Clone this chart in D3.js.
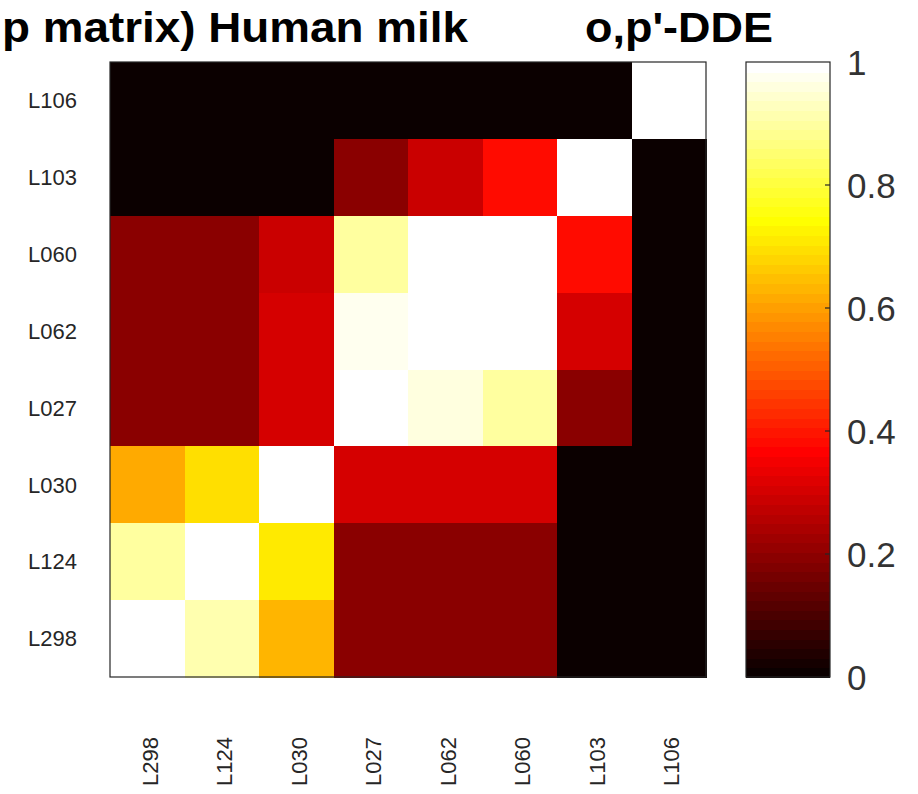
<!DOCTYPE html>
<html>
<head>
<meta charset="utf-8">
<script src="https://cdn.jsdelivr.net/npm/d3@7"></script>
<style>
  html, body { margin: 0; padding: 0; background: #ffffff; }
  svg { display: block; }
</style>
</head>
<body>
<svg id="chart" width="918" height="794"></svg>
<script>
// ---- data ----
const titleLeft = "p matrix) Human milk";
const titleRight = "o,p'-DDE";
const colLabels = ["L298", "L124", "L030", "L027", "L062", "L060", "L103", "L106"];
const rowLabels = ["L106", "L103", "L060", "L062", "L027", "L030", "L124", "L298"]; // top to bottom
// each row lists values for columns L298, L124, L030, L027, L062, L060, L103, L106
const rowL106 = [0.00, 0.00, 0.00, 0.00, 0.00, 0.00, 0.00, 1.00];
const rowL103 = [0.00, 0.00, 0.00, 0.20, 0.29, 0.38, 1.00, 0.00];
const rowL060 = [0.19, 0.19, 0.29, 0.90, 0.99, 0.99, 0.39, 0.00];
const rowL062 = [0.19, 0.19, 0.31, 0.97, 1.00, 0.99, 0.31, 0.00];
const rowL027 = [0.20, 0.20, 0.31, 1.00, 0.96, 0.90, 0.20, 0.00];
const rowL030 = [0.62, 0.69, 1.00, 0.31, 0.31, 0.30, 0.00, 0.00];
const rowL124 = [0.90, 1.00, 0.71, 0.20, 0.20, 0.20, 0.00, 0.00];
const rowL298 = [1.00, 0.91, 0.63, 0.20, 0.20, 0.20, 0.00, 0.00];
const rows = [rowL106, rowL103, rowL060, rowL062, rowL027, rowL030, rowL124, rowL298];
const colorbarTicks = [0, 0.2, 0.4, 0.6, 0.8, 1];
const colorbarTickLabels = ["0", "0.2", "0.4", "0.6", "0.8", "1"];

// ---- MATLAB "hot" colormap, 64 entries ----
const N = 64, n1 = 24, n2 = 24, n3 = 16;
const hotMap = d3.range(N).map(i => {
  const r = i < n1 ? (i + 1) / n1 : 1;
  const g = i < n1 ? 0 : (i < n1 + n2 ? (i - n1 + 1) / n2 : 1);
  const b = i < n1 + n2 ? 0 : (i - n1 - n2 + 1) / n3;
  return d3.rgb(Math.round(r * 255), Math.round(g * 255), Math.round(b * 255)).formatHex();
});
const color = d3.scaleQuantize().domain([0, 1]).range(hotMap);

const svg = d3.select("#chart");
const textColor = "#262626";

// ---- layout ----
const plot = { left: 110, right: 706, top: 62, bottom: 677 };
const x = d3.scaleBand().domain(colLabels).range([plot.left, plot.right]);
const y = d3.scaleBand().domain(rowLabels).range([plot.top, plot.bottom]);

// ---- cells ----
const cells = [];
rows.forEach((row, ri) => row.forEach((v, ci) => cells.push({ r: rowLabels[ri], c: colLabels[ci], v })));
svg.append("g").attr("shape-rendering", "crispEdges")
  .selectAll("rect").data(cells).join("rect")
  .attr("x", d => x(d.c))
  .attr("y", d => y(d.r))
  .attr("width", x.bandwidth() + 1)
  .attr("height", y.bandwidth() + 1)
  .attr("fill", d => color(d.v));

// box
svg.append("rect")
  .attr("x", plot.left).attr("y", plot.top)
  .attr("width", plot.right - plot.left).attr("height", plot.bottom - plot.top)
  .attr("fill", "none").attr("stroke", textColor).attr("stroke-width", 1.2);

// ---- y labels ----
svg.append("g").selectAll("text").data(rowLabels).join("text")
  .attr("x", 77)
  .attr("y", d => y(d) + y.bandwidth() / 2)
  .attr("dy", "0.35em")
  .attr("text-anchor", "end")
  .attr("font-family", "Liberation Sans, Arial, sans-serif")
  .attr("font-size", 22)
  .attr("fill", textColor)
  .text(d => d);

// ---- x labels (rotated) ----
svg.append("g").selectAll("text").data(colLabels).join("text")
  .attr("transform", d => `translate(${x(d) + x.bandwidth() / 2 + 3},737) rotate(-90)`)
  .attr("dy", "0.35em")
  .attr("text-anchor", "end")
  .attr("font-family", "Liberation Sans, Arial, sans-serif")
  .attr("font-size", 22)
  .attr("fill", textColor)
  .text(d => d);

// ---- colorbar ----
const cb = { left: 746, right: 830 };
const cy = d3.scaleLinear().domain([0, 1]).range([plot.bottom, plot.top]);
svg.append("g").attr("shape-rendering", "crispEdges")
  .selectAll("rect").data(hotMap).join("rect")
  .attr("x", cb.left)
  .attr("y", (d, i) => cy((i + 1) / N))
  .attr("width", cb.right - cb.left)
  .attr("height", (d, i) => cy(i / N) - cy((i + 1) / N) + 1)
  .attr("fill", d => d);
svg.append("rect")
  .attr("x", cb.left).attr("y", plot.top)
  .attr("width", cb.right - cb.left).attr("height", plot.bottom - plot.top)
  .attr("fill", "none").attr("stroke", textColor).attr("stroke-width", 1.2);
svg.append("g").selectAll("line").data(colorbarTicks.slice(1, -1)).join("line")
  .attr("x1", cb.right - 5).attr("x2", cb.right)
  .attr("y1", d => cy(d)).attr("y2", d => cy(d))
  .attr("stroke", textColor).attr("stroke-width", 1.2);
svg.append("g").selectAll("text").data(colorbarTicks).join("text")
  .attr("x", 847)
  .attr("y", d => cy(d))
  .attr("dy", "0.36em")
  .attr("font-family", "Liberation Sans, Arial, sans-serif")
  .attr("font-size", 35)
  .attr("fill", "#333")
  .text((d, i) => colorbarTickLabels[i]);

// ---- titles ----
svg.append("text")
  .attr("x", 2).attr("y", 42)
  .attr("font-family", "Liberation Sans, Arial, sans-serif")
  .attr("font-weight", "bold")
  .attr("font-size", 42)
  .attr("textLength", 466).attr("lengthAdjust", "spacingAndGlyphs")
  .attr("fill", "#000")
  .text(titleLeft);
svg.append("text")
  .attr("x", 585).attr("y", 42)
  .attr("font-family", "Liberation Sans, Arial, sans-serif")
  .attr("font-weight", "bold")
  .attr("font-size", 42)
  .attr("textLength", 188).attr("lengthAdjust", "spacingAndGlyphs")
  .attr("fill", "#000")
  .text(titleRight);
</script>
</body>
</html>
